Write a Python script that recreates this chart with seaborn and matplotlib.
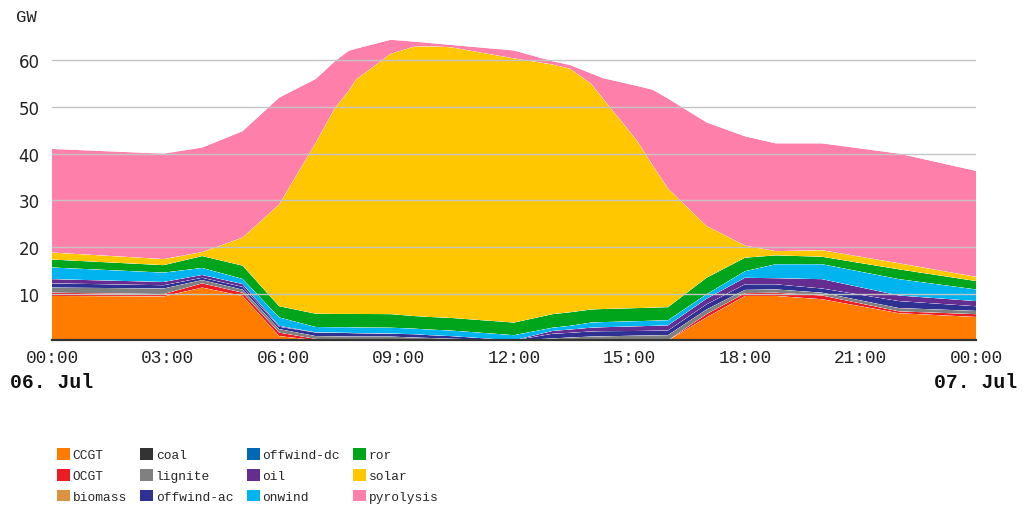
import numpy as np
import pandas as pd
import matplotlib
matplotlib.use("Agg")
import matplotlib.pyplot as plt
import matplotlib.transforms as mtransforms
from matplotlib.patches import Patch
import seaborn as sns
import seaborn.objects as so

# ---------------- data (GW, irregular snapshots in hours) ----------------
hours = [0.0, 2.9, 3.9, 4.95, 5.9, 6.85, 7.35, 7.7, 7.9, 8.8, 9.4, 9.8, 10.35,
         12.0, 13.0, 13.45, 14.0, 14.3, 15.2, 15.6, 16.0, 17.0, 18.0, 18.8,
         20.0, 22.0, 24.0]

ccgt      = [9.5, 9.4, 11.3, 9.5, 0.9, 0.05, 0, 0, 0, 0, 0, 0, 0,
             0, 0, 0, 0, 0, 0, 0, 0, 4.9, 9.5, 9.5, 8.8, 5.8, 5.0]
ocgt      = [0.7, 0.5, 0.9, 0.7, 0.75, 0.25, 0.2, 0.15, 0.15, 0.1, 0.05, 0, 0,
             0, 0, 0, 0, 0, 0, 0, 0, 0.7, 0.6, 0.7, 0.8, 0.4, 0.6]
biomass   = [0.0] * 27
coal      = [0.0] * 27
lignite   = [1.1, 1.2, 0.7, 0.65, 0.75, 0.6, 0.65, 0.65, 0.65, 0.7, 0.55, 0.5, 0.35,
             0, 0.4, 0.6, 0.8, 0.85, 1.0, 1.05, 1.1, 1.0, 0.7, 0.7, 0.6, 0.7, 0.7]
offwind_ac = [0.9, 0.7, 0.5, 0.6, 0.5, 0.75, 0.75, 0.75, 0.7, 0.6, 0.7, 0.6, 0.55,
              0, 1.0, 1.0, 1.1, 1.1, 1.0, 1.0, 1.0, 1.1, 1.2, 1.1, 0.9, 1.5, 1.0]
offwind_dc = [0.0] * 27
oil       = [0.9, 0.7, 0.6, 0.6, 0.2, 0.05, 0.05, 0.05, 0.05, 0.05, 0, 0, 0,
             0, 0.6, 0.7, 0.8, 0.85, 1.0, 1.05, 1.1, 1.2, 1.4, 1.3, 2.0, 1.2, 1.1]
onwind    = [2.5, 2.0, 1.5, 1.1, 1.8, 1.15, 1.15, 1.2, 1.2, 1.25, 1.2, 1.2, 1.2,
             1.1, 0.7, 0.8, 1.1, 1.1, 1.1, 1.1, 1.1, 0.95, 1.4, 3.0, 3.2, 3.5, 2.5]
ror       = [1.7, 1.6, 2.55, 2.85, 2.4, 2.85, 2.85, 2.85, 2.9, 2.9, 2.7, 2.7, 2.7,
             2.7, 2.9, 2.9, 2.8, 2.8, 2.8, 2.8, 2.8, 3.55, 2.9, 1.9, 1.6, 2.1, 1.8]
solar     = [1.5, 1.3, 0.85, 6.0, 21.8, 36.6, 44.15, 47.75, 50.25, 55.8, 57.7, 58.0, 58.0,
             56.6, 53.5, 52.2, 48.4, 45.2, 35.8, 30.5, 25.4, 11.1, 2.6, 0.9, 1.4, 1.3, 0.9]
pyrolysis = [22.2, 22.6, 22.4, 22.8, 22.9, 13.7, 10.0, 8.6, 6.6, 3.0, 1.1, 0.7, 0.5,
             1.7, 0.7, 0.8, 2.2, 4.3, 11.8, 16.2, 19.3, 22.2, 23.4, 23.1, 22.9, 23.5, 22.7]

carriers = ["CCGT", "OCGT", "biomass", "coal", "lignite", "offwind-ac",
            "offwind-dc", "oil", "onwind", "ror", "solar", "pyrolysis"]
series = [ccgt, ocgt, biomass, coal, lignite, offwind_ac,
          offwind_dc, oil, onwind, ror, solar, pyrolysis]
colors = ["#ff7c00", "#ec1c24", "#dc9340", "#333333", "#808080", "#2e3192",
          "#0068b4", "#662d91", "#00b4f0", "#00a51b", "#ffc700", "#ff7fab"]

xtick_hours = [0, 3, 6, 9, 12, 15, 18, 21, 24]
xtick_labels = ["00:00", "03:00", "06:00", "09:00", "12:00",
                "15:00", "18:00", "21:00", "00:00"]
ytick_vals = [10, 20, 30, 40, 50, 60]
date_labels = ["06. Jul", "07. Jul"]

# ---------------- long table ----------------
rows = []
for name, vals in zip(carriers, series):
    for h, v in zip(hours, vals):
        rows.append({"hour": h, "GW": v, "carrier": name})
df = pd.DataFrame(rows)
palette = dict(zip(carriers, colors))

# ---------------- figure ----------------
sns.set_theme(style="white")
W, H = 1031, 510
fig = plt.figure(figsize=(W / 100, H / 100), dpi=100)
y0 = 341.3
ymax = 66
pxper = 4.667
top_px = y0 - ymax * pxper
ax = fig.add_axes([52 / W, (H - y0) / H, 924 / W, (y0 - top_px) / H])

(
    so.Plot(df, x="hour", y="GW", color="carrier")
    .add(so.Area(alpha=1, edgewidth=0), so.Stack())
    .scale(color=so.Nominal(palette, order=carriers))
    .on(ax)
    .plot()
)
for lg in list(fig.legends):
    lg.set_visible(False)
fig.legends.clear()

ax.set_facecolor("white")
ax.set_xlim(0, 24)
ax.set_ylim(0, ymax)
ax.set_xlabel("")
ax.set_ylabel("")
ax.set_xticks(xtick_hours)
ax.set_xticklabels(xtick_labels, family="Liberation Mono", fontsize=12.8, color="#222222")
ax.set_yticks(ytick_vals)
ax.set_yticklabels([str(v) for v in ytick_vals], family="DejaVu Sans", fontsize=12, color="#222222")
ax.tick_params(axis="x", length=0, pad=6)
ax.tick_params(axis="y", length=0, pad=9)
ax.grid(False)
ax.yaxis.grid(True, color="#c4c4c4", linewidth=1.0)
ax.xaxis.grid(False)
ax.set_axisbelow(False)
for side in ["left", "right", "top"]:
    ax.spines[side].set_visible(False)
ax.spines["bottom"].set_visible(True)
ax.spines["bottom"].set_color("#333333")
ax.spines["bottom"].set_linewidth(1.6)
ax.spines["bottom"].set_zorder(4)

trans = mtransforms.blended_transform_factory(ax.transData, fig.transFigure)
ax.text(0, 1 - 383 / H, date_labels[0], transform=trans, ha="center", va="center",
        family="Liberation Mono", fontweight="bold", fontsize=14.2, color="#111111")
ax.text(24, 1 - 383 / H, date_labels[1], transform=trans, ha="center", va="center",
        family="Liberation Mono", fontweight="bold", fontsize=14.2, color="#111111")

fig.text(16 / W, 1 - 18 / H, "GW", ha="left", va="center",
         family="Liberation Mono", fontsize=12.5, color="#222222")

handles = [Patch(facecolor=c, edgecolor="none") for c in colors]
fig.legend(handles, carriers, ncol=4, loc="upper left",
           bbox_to_anchor=(57 / W, 1 - 449 / H), frameon=False,
           prop={"family": "Liberation Mono", "size": 9.3},
           handlelength=1.0, handleheight=1.0, handletextpad=0.2,
           columnspacing=1.05, labelspacing=0.6, borderpad=0, borderaxespad=0)

fig.savefig("out.png", dpi=100, facecolor="white")
